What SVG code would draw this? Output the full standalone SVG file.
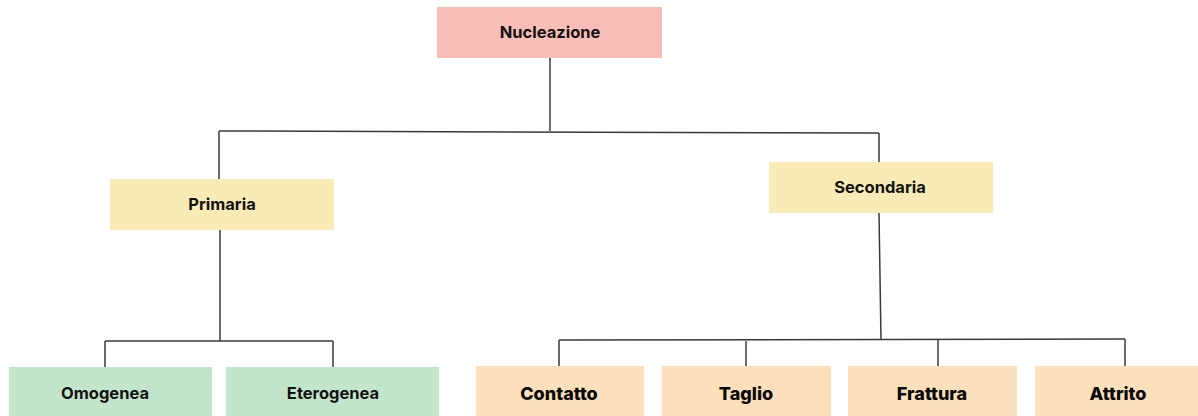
<svg xmlns="http://www.w3.org/2000/svg" width="1198" height="416" viewBox="0 0 1198 416">
<style>
.lbl{font-family:Inter,"Liberation Sans",sans-serif;font-weight:700;font-size:16.5px;fill:#121212;text-anchor:middle;dominant-baseline:central}
.big{font-size:18px;font-weight:800;fill:#0a0a0a}
.red{fill:#F9BDB8}.yel{fill:#F8EBB5}.grn{fill:#C3E5CB}.org{fill:#FCDFBB}
.conn line{stroke:#3a3a3a;stroke-width:1.5}
</style>
<rect width="1198" height="416" fill="#ffffff"/>
<g class="conn">
<line x1="550" y1="55" x2="550" y2="131"/>
<line x1="219" y1="131" x2="879" y2="133"/>
<line x1="219" y1="131" x2="219" y2="179"/>
<line x1="879" y1="133" x2="879" y2="162"/>
<line x1="220" y1="230" x2="220" y2="341"/>
<line x1="105" y1="341" x2="333" y2="341"/>
<line x1="105" y1="341" x2="105" y2="367"/>
<line x1="333" y1="341" x2="333" y2="367"/>
<line x1="879" y1="213" x2="881" y2="340"/>
<line x1="559" y1="340" x2="1125" y2="339"/>
<line x1="559" y1="340" x2="559" y2="366"/>
<line x1="746" y1="341" x2="746" y2="369"/>
<line x1="938" y1="340" x2="938" y2="366"/>
<line x1="1125" y1="339" x2="1125" y2="367"/>
</g>
<g id="nucleazione"><rect class="red" x="437" y="7" width="225" height="51"/><text class="lbl" x="550" y="32">Nucleazione</text></g>
<g id="primaria"><rect class="yel" x="110" y="179" width="224" height="51"/><text class="lbl" x="222" y="204">Primaria</text></g>
<g id="secondaria"><rect class="yel" x="769" y="162" width="224" height="51"/><text class="lbl" x="880" y="187">Secondaria</text></g>
<g id="omogenea"><rect class="grn" x="9" y="367" width="203" height="55"/><text class="lbl" x="105" y="393">Omogenea</text></g>
<g id="eterogenea"><rect class="grn" x="226" y="367" width="213" height="55"/><text class="lbl" x="333" y="393">Eterogenea</text></g>
<g id="contatto"><rect class="org" x="476" y="366" width="168" height="55"/><text class="lbl big" x="559" y="393">Contatto</text></g>
<g id="taglio"><rect class="org" x="662" y="366" width="169" height="55"/><text class="lbl big" x="746" y="393">Taglio</text></g>
<g id="frattura"><rect class="org" x="848" y="366" width="169" height="55"/><text class="lbl big" x="932" y="393">Frattura</text></g>
<g id="attrito"><rect class="org" x="1035" y="366" width="170" height="55"/><text class="lbl big" x="1118" y="393">Attrito</text></g>
</svg>
